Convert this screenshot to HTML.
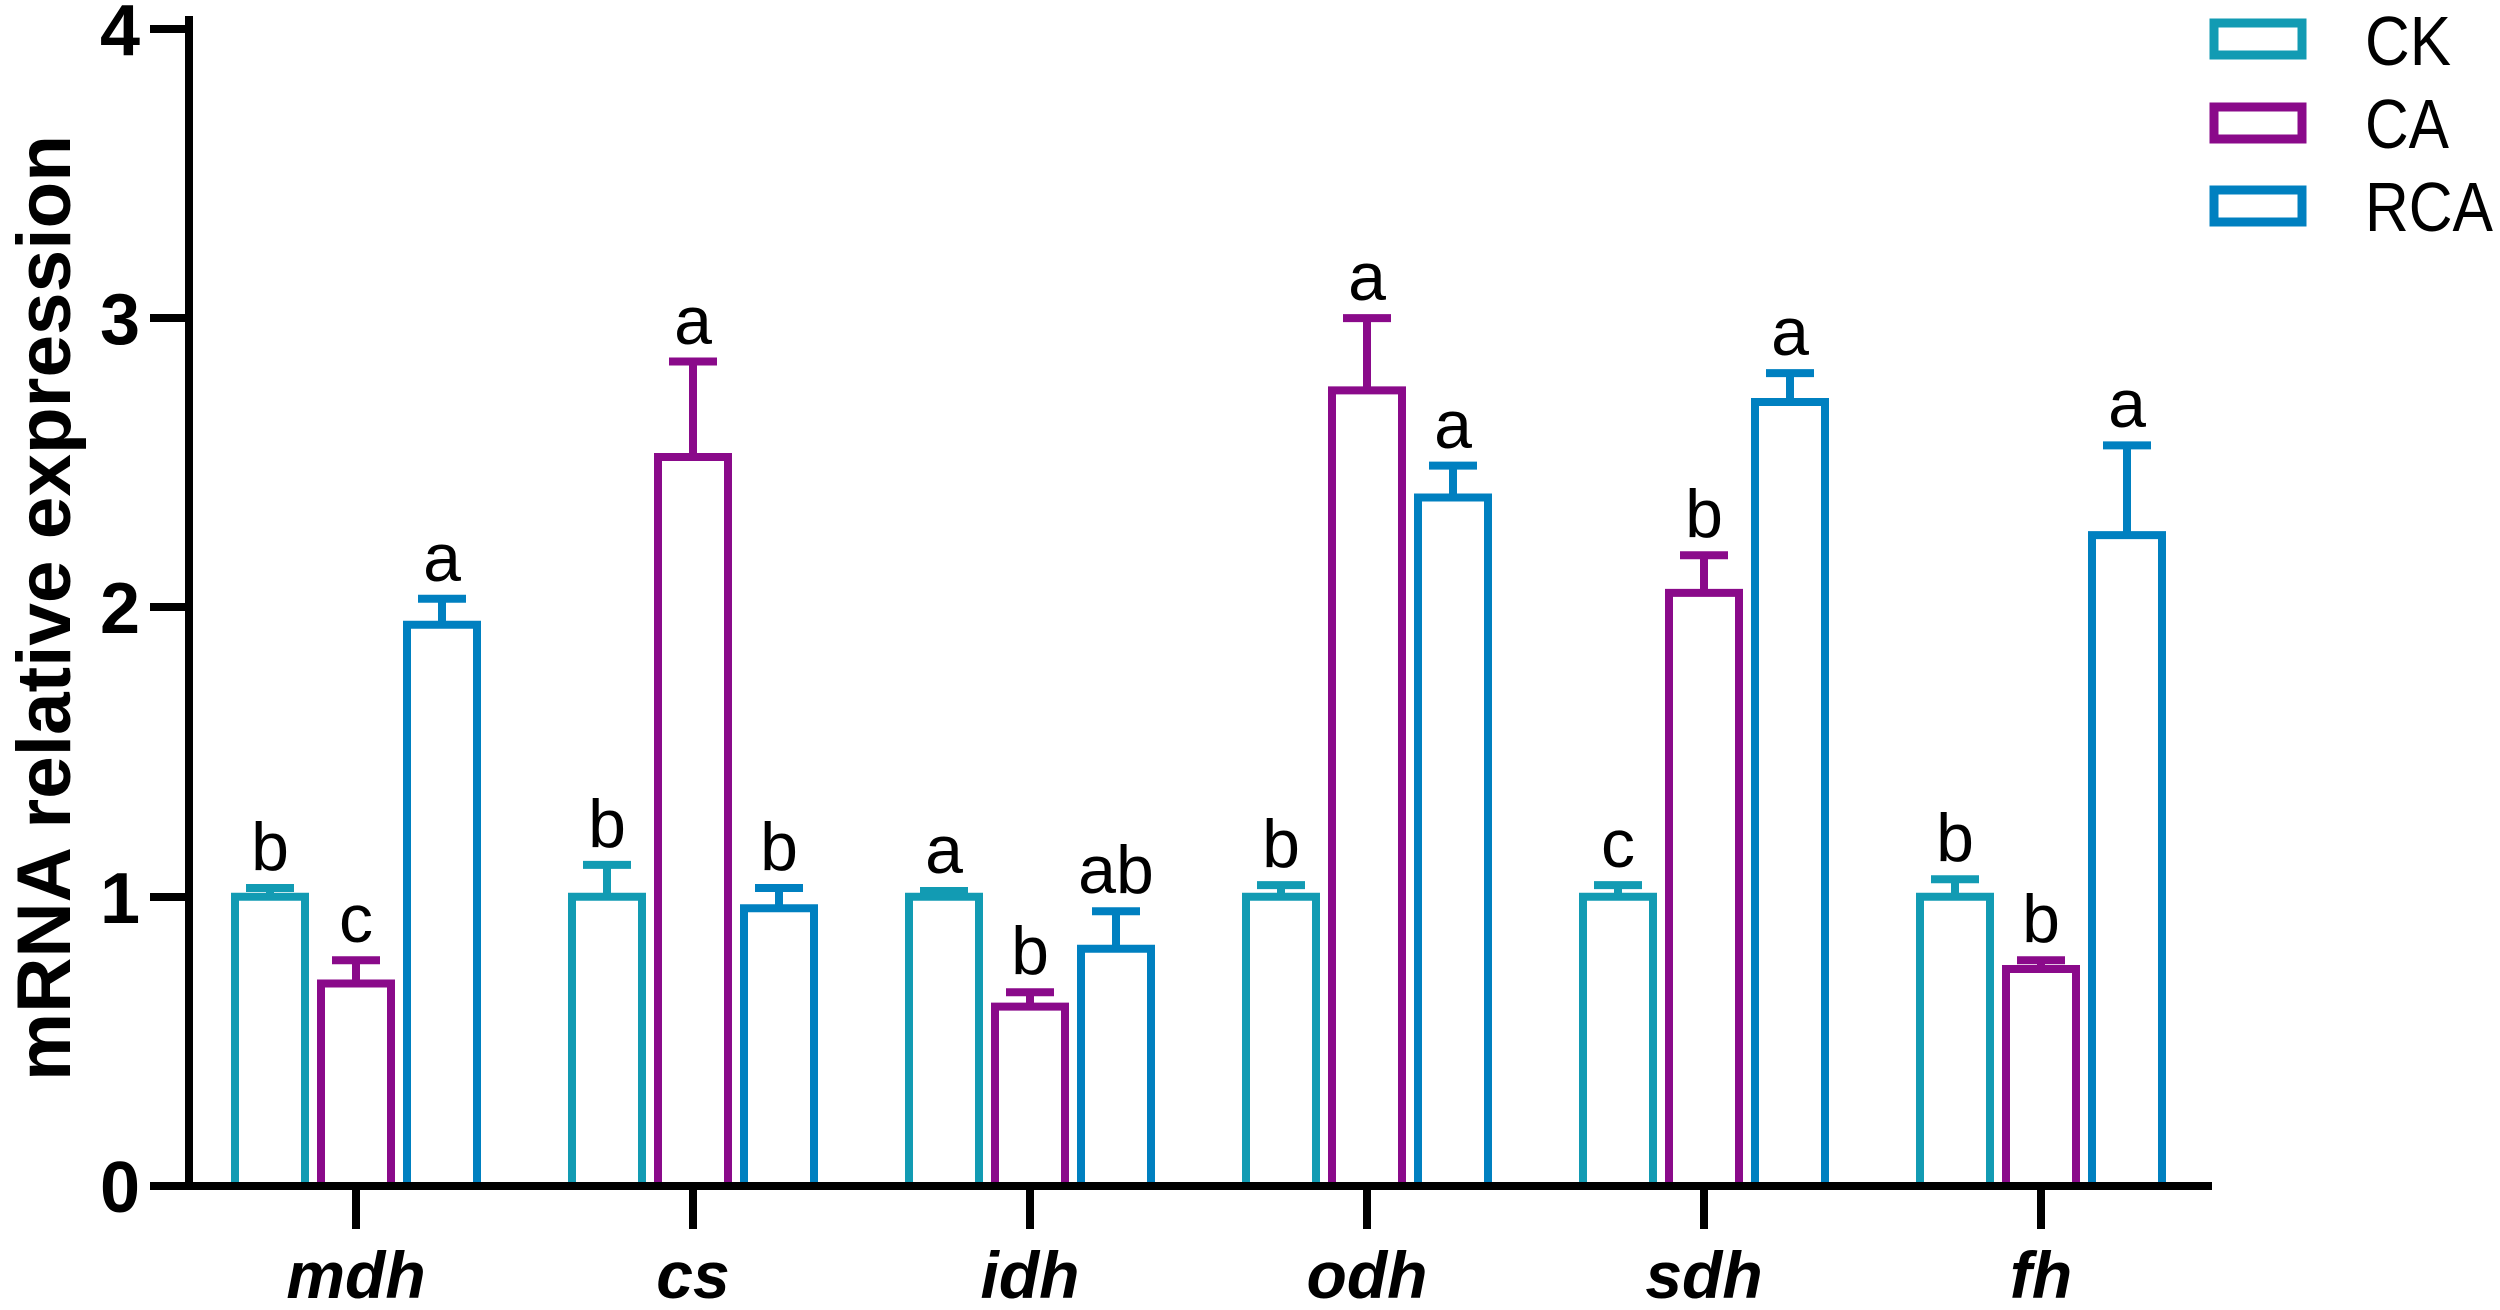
<!DOCTYPE html>
<html><head><style>body{margin:0;background:#fff}</style></head><body>
<svg width="2500" height="1305" xmlns="http://www.w3.org/2000/svg" font-family="Liberation Sans, Arial, sans-serif">
<rect width="2500" height="1305" fill="#fff"/>
<g fill="none" stroke-width="8" stroke="#129BB3">
<path d="M235 1186V896.7H305V1186M270 896.7V888M246 888H294"/>
<path d="M572 1186V896.7H642V1186M607 896.7V864.9M583 864.9H631"/>
<path d="M909 1186V896.7H979V1186M944 896.7V891M920 891H968"/>
<path d="M1246 1186V896.7H1316V1186M1281 896.7V885.1M1257 885.1H1305"/>
<path d="M1583 1186V896.7H1653V1186M1618 896.7V885.1M1594 885.1H1642"/>
<path d="M1920 1186V896.7H1990V1186M1955 896.7V879.3M1931 879.3H1979"/>
</g>
<g fill="none" stroke-width="8" stroke="#8A0A8A">
<path d="M321 1186V983.5H391V1186M356 983.5V960.3M332 960.3H380"/>
<path d="M658 1186V457H728V1186M693 457V361.5M669 361.5H717"/>
<path d="M995 1186V1006.6H1065V1186M1030 1006.6V992.2M1006 992.2H1054"/>
<path d="M1332 1186V390.4H1402V1186M1367 390.4V318.1M1343 318.1H1391"/>
<path d="M1669 1186V592.9H1739V1186M1704 592.9V555.3M1680 555.3H1728"/>
<path d="M2006 1186V969H2076V1186M2041 969V960.3M2017 960.3H2065"/>
</g>
<g fill="none" stroke-width="8" stroke="#0080C0">
<path d="M407 1186V624.8H477V1186M442 624.8V598.7M418 598.7H466"/>
<path d="M744 1186V908.3H814V1186M779 908.3V888M755 888H803"/>
<path d="M1081 1186V948.8H1151V1186M1116 948.8V911.2M1092 911.2H1140"/>
<path d="M1418 1186V497.5H1488V1186M1453 497.5V465.6M1429 465.6H1477"/>
<path d="M1755 1186V402H1825V1186M1790 402V373.1M1766 373.1H1814"/>
<path d="M2092 1186V535.1H2162V1186M2127 535.1V445.4M2103 445.4H2151"/>
</g>
<g stroke="#000" stroke-width="8" fill="none">
<line x1="189" y1="16" x2="189" y2="1190"/>
<line x1="150" y1="1186" x2="2212" y2="1186"/>
<line x1="150" y1="897" x2="189" y2="897"/>
<line x1="150" y1="607" x2="189" y2="607"/>
<line x1="150" y1="318" x2="189" y2="318"/>
<line x1="150" y1="29" x2="189" y2="29"/>
<line x1="356" y1="1186" x2="356" y2="1229"/>
<line x1="693" y1="1186" x2="693" y2="1229"/>
<line x1="1030" y1="1186" x2="1030" y2="1229"/>
<line x1="1367" y1="1186" x2="1367" y2="1229"/>
<line x1="1704" y1="1186" x2="1704" y2="1229"/>
<line x1="2041" y1="1186" x2="2041" y2="1229"/>
</g>
<g font-weight="bold" font-size="72" text-anchor="end">
<text x="140" y="1212">0</text><text x="140" y="923">1</text><text x="140" y="633">2</text><text x="140" y="344">3</text><text x="140" y="55">4</text>
</g>
<text transform="translate(70,608) rotate(-90)" text-anchor="middle" font-weight="bold" font-size="76" textLength="946" lengthAdjust="spacingAndGlyphs">mRNA relative expression</text>
<g font-weight="bold" font-style="italic" font-size="66" text-anchor="middle">
<text x="356" y="1298">mdh</text><text x="693" y="1298">cs</text><text x="1030" y="1298">idh</text><text x="1367" y="1298">odh</text><text x="1704" y="1298">sdh</text><text x="2041" y="1298">fh</text>
</g>
<g fill="none" stroke-width="9">
<rect x="2214" y="23" width="88" height="32" stroke="#129BB3"/>
<rect x="2214" y="107" width="88" height="32" stroke="#8A0A8A"/>
<rect x="2214" y="190" width="88" height="32" stroke="#0080C0"/>
</g>
<g font-size="70">
<text x="2365" y="65" textLength="86" lengthAdjust="spacingAndGlyphs">CK</text>
<text x="2365" y="148" textLength="84" lengthAdjust="spacingAndGlyphs">CA</text>
<text x="2365" y="231" textLength="128" lengthAdjust="spacingAndGlyphs">RCA</text>
</g>
<g font-size="68" text-anchor="middle">
<text x="270" y="870">b</text><text x="356" y="942">c</text><text x="442" y="581">a</text>
<text x="607" y="847">b</text><text x="693" y="344">a</text><text x="779" y="870">b</text>
<text x="944" y="873">a</text><text x="1030" y="974">b</text><text x="1116" y="893">ab</text>
<text x="1281" y="867">b</text><text x="1367" y="300">a</text><text x="1453" y="448">a</text>
<text x="1618" y="867">c</text><text x="1704" y="537">b</text><text x="1790" y="355">a</text>
<text x="1955" y="861">b</text><text x="2041" y="942">b</text><text x="2127" y="427">a</text>
</g>
</svg>
</body></html>
